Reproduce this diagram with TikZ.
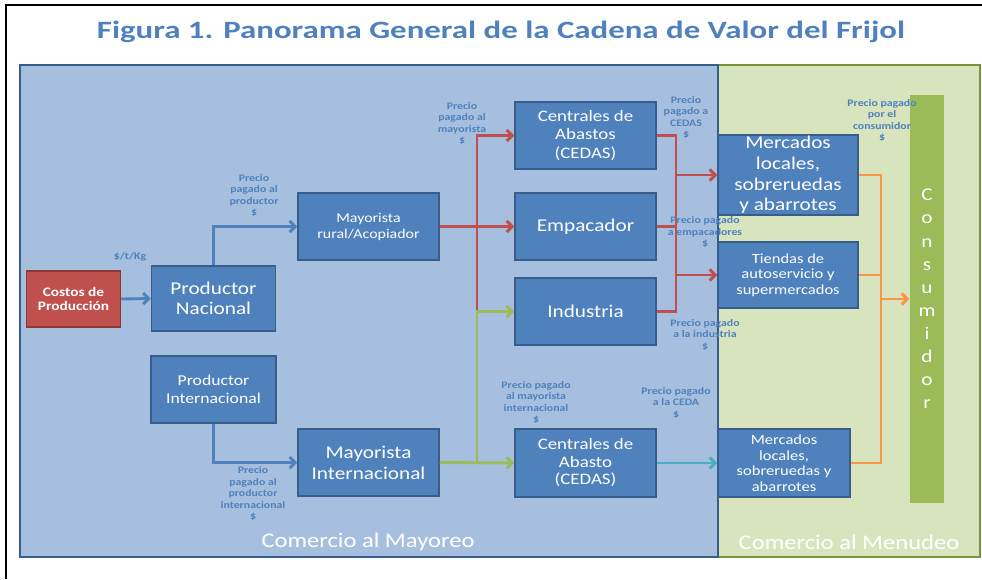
\documentclass[tikz,border=0pt]{standalone}
\usepackage{fontspec}
\setmainfont{Carlito}[FakeStretch=1.18]
\newfontfamily\titlefont{Carlito}[FakeStretch=1.32]
\usetikzlibrary{arrows.meta}
\definecolor{boxblue}{HTML}{4F81BD}
\definecolor{boxedge}{HTML}{385D8A}
\definecolor{mayoreo}{HTML}{A7BFDE}
\definecolor{menudeo}{HTML}{D7E4BD}
\definecolor{menudeoedge}{HTML}{77933C}
\definecolor{consgreen}{HTML}{9BBB59}
\definecolor{costred}{HTML}{C0504D}
\definecolor{costedge}{HTML}{8C3836}
\definecolor{precioblue}{HTML}{4F81BD}
\definecolor{flechared}{HTML}{C0504D}
\definecolor{flechagreen}{HTML}{9BBB59}
\definecolor{flechaorange}{HTML}{F79646}
\definecolor{flechateal}{HTML}{4BACC6}
\tikzset{
	box/.style={draw=boxedge, fill=boxblue, line width=1.5pt, text=white,
			align=center, inner sep=0pt},
	costbox/.style={box, draw=costedge, fill=costred, font=\bfseries\fontsize{13}{13.7}\selectfont},
	precio/.style={text=precioblue, align=center, inner sep=0pt,
			font=\bfseries\fontsize{10}{11.5}\selectfont},
	zona/.style={text=white, inner sep=0pt, font=\fontsize{20.8}{22}\selectfont},
	flecha/.style={line width=2.9pt, -{Straight Barb[length=5.5pt,width=11pt]}},
	linea/.style={line width=2.9pt}
}

\begin{document}
\begin{tikzpicture}[x=1pt, y=-1pt]
        \useasboundingbox (0,0) rectangle (982,579);
        \draw[line width=2pt] (6,579) -- (6,5) -- (982,5);
        \node[text=precioblue, font=\titlefont\bfseries\fontsize{24.9}{26}\selectfont] (titulo) at (501, 32) {Figura 1. Panorama General de la Cadena de Valor del Frijol};
        \filldraw[draw=menudeoedge, fill=menudeo, line width=2pt] (718, 65) rectangle (980, 557);
        \filldraw[draw=boxedge, fill=mayoreo, line width=2pt] (20, 65) rectangle (718, 557);
        \node[zona] (mayoreo) at (368, 542) {Comercio al Mayoreo};
        \node[zona] (menudeo) at (849, 542) {Comercio al Menudeo};
        \node[costbox, minimum width=94, minimum height=56] (costos) at (73.5, 299) {Costos de\\Producción};
        \node[box, minimum width=124, minimum height=65, font=\fontsize{18}{20}\selectfont] (pnac) at (213.5, 298.5) {Productor\\Nacional};
        \node[box, minimum width=141, minimum height=67, font=\fontsize{13.5}{16}\selectfont] (mrural) at (368.5, 226.5) {Mayorista\\rural/Acopiador};
        \node[box, minimum width=141, minimum height=67, font=\fontsize{16}{18.5}\selectfont] (cedas) at (585.5, 135.5) {Centrales de\\Abastos\\(CEDAS)};
        \node[box, minimum width=141, minimum height=67, font=\fontsize{18}{20}\selectfont] (empac) at (585.5, 226.5) {Empacador};
        \node[box, minimum width=141, minimum height=67, font=\fontsize{18}{20}\selectfont] (indus) at (585.5, 311.5) {Industria};
        \node[box, minimum width=125, minimum height=67, font=\fontsize{15}{18}\selectfont] (pint) at (213.5, 389.5) {Productor\\Internacional};
        \node[box, minimum width=141, minimum height=67, font=\fontsize{18}{21}\selectfont] (mint) at (368.5, 462.5) {Mayorista\\Internacional};
        \node[box, minimum width=141, minimum height=68, font=\fontsize{16}{17.5}\selectfont] (cedasb) at (585.5, 463) {Centrales de\\Abasto\\(CEDAS)};
        \node[box, minimum width=140, minimum height=80, font=\fontsize{18}{20.7}\selectfont] (merc) at (788, 175) {Mercados\\locales,\\sobreruedas\\y abarrotes};
        \node[box, minimum width=140, minimum height=66, font=\fontsize{14}{15.5}\selectfont] (tiendas) at (788, 275) {Tiendas de\\autoservicio y\\supermercados};
        \node[box, minimum width=132, minimum height=68, font=\fontsize{14}{15.5}\selectfont] (mercb) at (784, 463) {Mercados\\locales,\\sobreruedas y\\abarrotes};
        \node[box, draw=none, fill=consgreen, minimum width=34, minimum height=408, font=\fontsize{18}{23.1}\selectfont] (consum) at (927, 299) {C\\o\\n\\s\\u\\m\\i\\d\\o\\r};
        \coordinate (troncoW) at (477, 0);
        \coordinate (troncoE) at (676, 0);
        \coordinate (troncoO) at (881, 0);
        \draw[flecha, boxblue] (costos.east) -- (pnac.west);
        \draw[flecha, boxblue] (pnac.north) |- (mrural.west);
        \draw[flecha, boxblue] (pint.south) |- (mint.west);
        \draw[linea, flechared] (mrural.east) -- (mrural.east -| troncoW);
        \draw[flecha, flechared] (indus.west -| troncoW) |- (cedas.west);
        \draw[flecha, flechared] (mrural.east -| troncoW) -- (empac.west);
        \draw[flecha, flechagreen] (mint.east) -- (cedasb.west);
        \draw[flecha, flechagreen] (mint.east -| troncoW) |- (indus.west);
        \draw[linea, flechared] (cedas.east) -| (troncoE |- indus.east) -- (indus.east);
        \draw[linea, flechared] (empac.east) -- (empac.east -| troncoE);
        \draw[flecha, flechared] (troncoE |- merc.west) -- (merc.west);
        \draw[flecha, flechared] (troncoE |- tiendas.west) -- (tiendas.west);
        \draw[flecha, flechateal] (cedasb.east) -- (mercb.west);
        \draw[linea, flechaorange] (merc.east) -| (troncoO |- mercb.east) -- (mercb.east);
        \draw[linea, flechaorange] (tiendas.east) -- (tiendas.east -| troncoO);
        \draw[flecha, flechaorange] (troncoO |- consum.west) -- (consum.west);
        \node[precio] (kg) at (130, 257) {\$/t/Kg};
        \node[precio] (p_prod) at (254, 195.5) {Precio\\pagado al\\productor\\\$};
        \node[precio] (p_may) at (462, 123.5) {Precio\\pagado al\\mayorista\\\$};
        \node[precio] (p_cedas) at (686, 117.5) {Precio\\pagado a\\CEDAS\\\$};
        \node[precio] (p_emp) at (705, 232.5) {Precio pagado\\a empacadores\\\$};
        \node[precio] (p_ind) at (705, 335) {Precio pagado\\a la industria\\\$};
        \node[precio] (p_cons) at (882, 120.5) {Precio pagado\\por el\\consumidor\\\$};
        \node[precio] (p_mint) at (536, 402.5) {Precio pagado\\al mayorista\\internacional\\\$};
        \node[precio] (p_ceda) at (676, 403) {Precio pagado\\a la CEDA\\\$};
        \node[precio] (p_pint) at (253, 494) {Precio\\pagado al\\productor\\internacional\\\$};
    \end{tikzpicture}
\end{document}
